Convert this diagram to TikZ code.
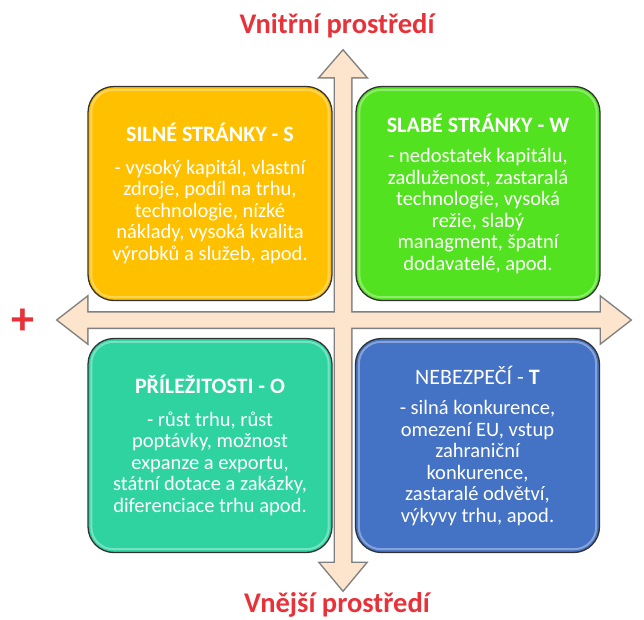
\documentclass[tikz,border=0pt]{standalone}
\usepackage{fontspec}
\setmainfont{Carlito}
\definecolor{cyel}{RGB}{255,192,0}
\definecolor{cgrn}{RGB}{82,226,32}
\definecolor{cteal}{RGB}{46,211,160}
\definecolor{cblue}{RGB}{68,114,196}
\definecolor{carrow}{RGB}{253,229,205}
\definecolor{carrowline}{RGB}{128,128,128}
\definecolor{cred}{RGB}{232,50,58}
\definecolor{cedge}{RGB}{50,50,50}
\tikzset{
  box/.style={draw=cedge, line width=1.3pt, rounded corners=26pt, text=white,
    align=center, minimum width=244pt, minimum height=214pt, inner sep=0pt,
    font=\fontsize{20.5}{21.5}\selectfont},
  gloss/.style={draw=white, line width=2pt, opacity=0.35, rounded corners=22pt},
  redlabel/.style={text=cred, font=\fontsize{28.5}{30}\selectfont\bfseries, inner sep=0pt},
  signlabel/.style={text=cred, font=\fontsize{46}{46}\selectfont\bfseries, inner sep=0pt},
  arrowshape/.style={fill=carrow, draw=none},
  arrowedge/.style={draw=carrowline, line width=3pt, line join=miter}
}
\begin{document}
\begin{tikzpicture}[x=1pt,y=-1pt]
\useasboundingbox (0,0) rectangle (644,619);
% cross of double arrows
\def\vpath{(335,77) -- (320.5,77) -- (343,51) -- (365.5,77) -- (351,77) -- (351,563) -- (365.5,563) -- (343,590) -- (320.5,563) -- (335,563) -- cycle}
\def\hpath{(87,312.5) -- (87,297.5) -- (58,320) -- (87,342.5) -- (87,327.5) -- (601,327.5) -- (601,342.5) -- (630,320) -- (601,297.5) -- (601,312.5) -- cycle}
\draw[arrowedge] \vpath;
\draw[arrowedge] \hpath;
\fill[arrowshape] \vpath;
\fill[arrowshape] \hpath;
% boxes
\node[box, fill=cyel] (s) at (210,193.5) {\fontsize{22}{22}\selectfont\textbf{SILNÉ STRÁNKY - S}\\[11pt]- vysoký kapitál, vlastní\\zdroje, podíl na trhu,\\technologie, nízké\\náklady, vysoká kvalita\\výrobků a služeb, apod.};
\node[box, fill=cgrn] (w) at (478,193.5) {\fontsize{22}{22}\selectfont\textbf{SLABÉ STRÁNKY - W}\\[9pt]- nedostatek kapitálu,\\zadluženost, zastaralá\\technologie, vysoká\\režie, slabý\\managment, špatní\\dodavatelé, apod.};
\node[box, fill=cteal] (o) at (210,445.5) {\fontsize{22}{22}\selectfont\textbf{PŘÍLEŽITOSTI - O}\\[11pt]- růst trhu, růst\\poptávky, možnost\\expanze a exportu,\\státní dotace a zakázky,\\diferenciace trhu apod.};
\node[box, fill=cblue] (t) at (477.5,445.5) {\fontsize{22}{22}\selectfont NEBEZPEČÍ - \textbf{T}\\[9pt]- silná konkurence,\\omezení EU, vstup\\zahraniční\\konkurence,\\zastaralé odvětví,\\výkyvy trhu, apod.};
\foreach \b in {s,w,o,t}{
  \draw[gloss] ([shift={(4pt,-4pt)}]\b.north west) rectangle ([shift={(-4pt,4pt)}]\b.south east);
}
% labels
\node[redlabel] (top) at (337,26) {Vnitřní prostředí};
\node[redlabel] (bot) at (337,605) {Vnější prostředí};
\node[signlabel] (plus) at (23,322) {+};
\node[signlabel] (minus) at (654,319) {–};
\end{tikzpicture}
\end{document}
